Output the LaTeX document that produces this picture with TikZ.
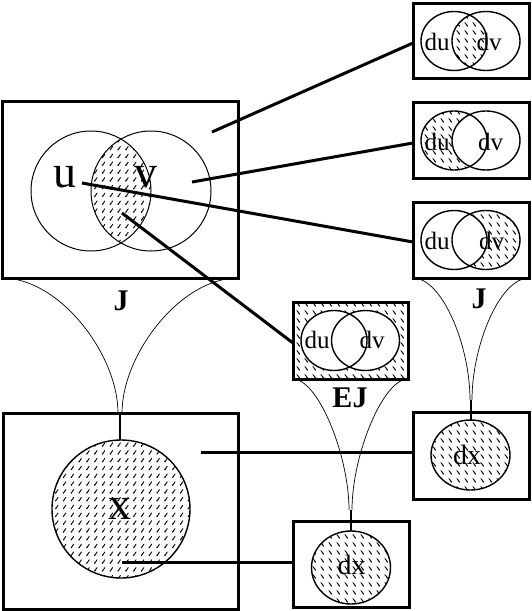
\documentclass[tikz,border=0pt]{standalone}
\usepackage{fontspec}
\setmainfont{Liberation Serif}
\usetikzlibrary{patterns}
\pgfdeclarepatternformonly{hatchR}{\pgfqpoint{-1pt}{-1pt}}{\pgfqpoint{9pt}{9pt}}{\pgfqpoint{7.8pt}{7.8pt}}{%
  \pgfsetlinewidth{0.9pt}\pgfsetroundcap
  \pgfpathmoveto{\pgfqpoint{1pt}{1pt}}%
  \pgfpathcurveto{\pgfqpoint{2.2pt}{1pt}}{\pgfqpoint{2pt}{3.6pt}}{\pgfqpoint{3.4pt}{4.4pt}}%
  \pgfusepath{stroke}%
  \pgfpathcircle{\pgfqpoint{1.1pt}{1.1pt}}{0.7pt}\pgfusepath{fill}}
\pgfdeclarepatternformonly{hatchL}{\pgfqpoint{-1pt}{-1pt}}{\pgfqpoint{9pt}{9pt}}{\pgfqpoint{8pt}{8pt}}{%
  \pgfsetlinewidth{0.9pt}\pgfsetroundcap
  \pgfpathmoveto{\pgfqpoint{1pt}{4.4pt}}%
  \pgfpathcurveto{\pgfqpoint{2.4pt}{4.2pt}}{\pgfqpoint{2pt}{1.4pt}}{\pgfqpoint{3.4pt}{1pt}}%
  \pgfusepath{stroke}%
  \pgfpathcircle{\pgfqpoint{3.3pt}{1.1pt}}{0.7pt}\pgfusepath{fill}}
\tikzset{
  box/.style={draw, line width=3pt, inner sep=0pt, outer sep=0pt},
  conn/.style={line width=3pt},
  funnel/.style={line width=0.7pt},
  stem/.style={line width=2pt},
  thinset/.style={line width=1pt},
  setline/.style={line width=1.4pt},
  big/.style={font=\fontsize{46}{46}\selectfont, inner sep=0pt},
  mid/.style={font=\fontsize{25}{25}\selectfont, inner sep=0pt},
  dxt/.style={font=\fontsize{28}{28}\selectfont, inner sep=0pt},
  lab/.style={font=\fontsize{30}{30}\selectfont\bfseries, inner sep=0pt},
}
\begin{document}
\begin{tikzpicture}[x=1pt,y=-1pt]
\useasboundingbox (0,0) rectangle (531,611);
% ---------- boxes ----------
\node[box, minimum width=236pt, minimum height=177pt] (mainJ) at (120,189.5) {};
\node[box, minimum width=235pt, minimum height=196pt] (botX) at (120.5,511) {};
\node[box, minimum width=116pt, minimum height=75pt] (b1) at (471,40.5) {};
\node[box, minimum width=116pt, minimum height=76pt] (b2) at (471,140) {};
\node[box, minimum width=116pt, minimum height=76pt] (b3) at (471,240) {};
\node[box, minimum width=116pt, minimum height=87pt] (dxr) at (471,455.5) {};
\node[box, minimum width=116pt, minimum height=86pt] (dxb) at (351,564) {};
% EJ box (hatched background)
\fill[pattern=hatchL] (293,302) rectangle (408,379);
\fill[white] (334,340.5) ellipse[x radius=33pt, y radius=30pt];
\fill[white] (365.5,340.5) ellipse[x radius=34pt, y radius=30pt];
\draw[setline] (334,340.5) ellipse[x radius=33pt, y radius=30pt];
\draw[setline] (365.5,340.5) ellipse[x radius=34pt, y radius=30pt];
\node[box, minimum width=115pt, minimum height=77pt] (ej) at (350.5,340.5) {};
% ---------- main Venn ----------
\begin{scope}
  \clip (91,191) circle[radius=60pt];
  \fill[pattern=hatchR] (151,191) circle[radius=60pt];
\end{scope}
\draw[thinset] (91,191) circle[radius=60pt];
\draw[thinset] (151,191) circle[radius=60pt];
\node[big] (u) at (65,177) {u};
\node[big] (v) at (146,177) {v};
% ---------- top right Venns ----------
% box 1: intersection
\begin{scope}
  \clip (454,41) ellipse[x radius=33pt, y radius=29.5pt];
  \fill[pattern=hatchL] (486,41) ellipse[x radius=34pt, y radius=29.5pt];
\end{scope}
\draw[setline] (454,41) ellipse[x radius=33pt, y radius=29.5pt];
\draw[setline] (486,41) ellipse[x radius=34pt, y radius=29.5pt];
\node[mid] (du1) at (437,42) {du};
\node[mid] (dv1) at (489,42) {dv};
% box 2: du only
\fill[pattern=hatchL] (454,140.5) ellipse[x radius=33pt, y radius=29.5pt];
\fill[white] (486,140.5) ellipse[x radius=34pt, y radius=29.5pt];
\draw[setline] (454,140.5) ellipse[x radius=33pt, y radius=29.5pt];
\draw[setline] (486,140.5) ellipse[x radius=34pt, y radius=29.5pt];
\node[mid] (du2) at (437,141.5) {du};
\node[mid] (dv2) at (490.5,141.5) {dv};
% box 3: dv only
\fill[pattern=hatchL] (486,240) ellipse[x radius=34pt, y radius=29.5pt];
\fill[white] (454,240) ellipse[x radius=33pt, y radius=29.5pt];
\draw[setline] (454,240) ellipse[x radius=33pt, y radius=29.5pt];
\draw[setline] (486,240) ellipse[x radius=34pt, y radius=29.5pt];
\node[mid] (du3) at (437,240.5) {du};
\node[mid] (dv3) at (491.5,240.5) {dv};
% EJ texts
\node[mid] (du4) at (317,340) {du};
\node[mid] (dv4) at (372,340) {dv};
% ---------- bottom shapes ----------
\fill[pattern=hatchR] (121,509) circle[radius=69pt];
\draw[setline] (121,509) circle[radius=69pt];
\node[big] (x) at (119.5,509) {x};
\fill[pattern=hatchL] (470.5,455) ellipse[x radius=39.5pt, y radius=35pt];
\draw[setline] (470.5,455) ellipse[x radius=39.5pt, y radius=35pt];
\node[dxt] (dx1) at (467,455) {dx};
\fill[pattern=hatchL] (351,567.5) ellipse[x radius=39.5pt, y radius=36.5pt];
\draw[setline] (351,567.5) ellipse[x radius=39.5pt, y radius=36.5pt];
\node[dxt] (dx2) at (351.5,565) {dx};
% ---------- labels ----------
\node[lab] (lJ1) at (121,301) {J};
\node[lab] (lJ2) at (479,299) {J};
\node[lab] (lEJ) at (350,398) {EJ};
% ---------- funnels ----------
\coordinate (f1l) at (118,413);
\coordinate (f1r) at (122,413);
\draw[funnel] (mainJ.south west) .. controls (60,278) and (118,355) .. (f1l);
\draw[funnel] (mainJ.south east) .. controls (180,278) and (122,355) .. (f1r);
\coordinate (s1) at (120,413);
\draw[stem] (s1) -- (120,440);
\coordinate (f2l) at (470,400);
\coordinate (f2r) at (472,400);
\draw[funnel] (b3.south west) .. controls (442,278) and (470,345) .. (f2l);
\draw[funnel] (b3.south east) .. controls (500,278) and (472,345) .. (f2r);
\coordinate (s2) at (471,400);
\draw[stem] (s2) -- (471,420.5);
\coordinate (f3l) at (349,510);
\coordinate (f3r) at (352,510);
\draw[funnel] (ej.south west) .. controls (318,379) and (349,455) .. (f3l);
\draw[funnel] (ej.south east) .. controls (383,379) and (352,455) .. (f3r);
\coordinate (s3) at (350.5,510);
\draw[stem] (s3) -- (350.5,531);
% ---------- connectors ----------
\coordinate (p1) at (212,132);
\coordinate (e1) at (413,43);
\coordinate (p2) at (192,182);
\coordinate (e2) at (413,143);
\coordinate (p3) at (82,183);
\coordinate (e3) at (413,242);
\coordinate (p4) at (122,213);
\coordinate (e4) at (293,343);
\coordinate (p5) at (201,452);
\coordinate (p6) at (122,562);
\draw[conn] (p1) -- (e1);
\draw[conn] (p2) -- (e2);
\draw[conn] (p3) -- (e3);
\draw[conn] (p4) -- (e4);
\draw[conn] (p5) -- (p5 -| dxr.west);
\draw[conn] (p6) -- (p6 -| dxb.west);
\end{tikzpicture}
\end{document}
